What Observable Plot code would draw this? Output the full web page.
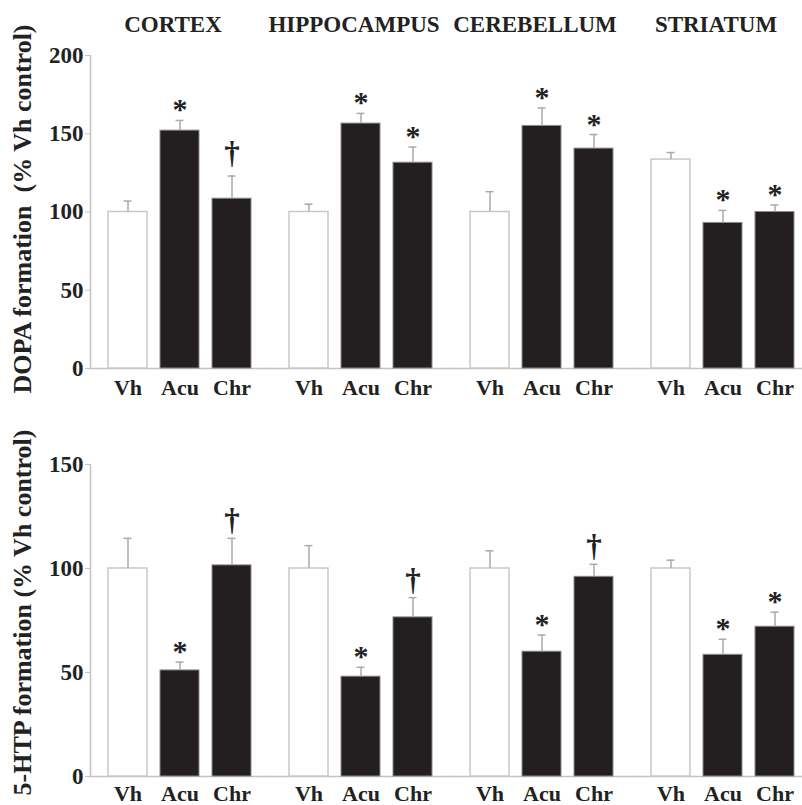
<!DOCTYPE html>
<html>
<head>
<meta charset="utf-8">
<script src="https://cdn.jsdelivr.net/npm/d3@7"></script>
<script src="https://cdn.jsdelivr.net/npm/@observablehq/plot@0.6"></script>
<style>
  html, body { margin: 0; padding: 0; background: #fff; }
  #chart svg { display: block; }
</style>
</head>
<body>
<div id="chart"></div>
<script>
const regions = ["CORTEX", "HIPPOCAMPUS", "CEREBELLUM", "STRIATUM"];
const treatments = ["Vh", "Acu", "Chr"];

// DOPA formation (% Vh control): mean and SEM per region x treatment
const dopaMean = [[100, 152, 108.5], [100, 156.5, 131.5], [100, 155, 140.5], [133.5, 93, 100]];
const dopaSem  = [[7, 6.5, 14.5], [5, 6.5, 10], [13, 11.5, 9], [4.5, 8, 4.5]];
const dopaSig  = [["", "*", "†"], ["", "*", "*"], ["", "*", "*"], ["", "*", "*"]];
const dopaTicks = [0, 50, 100, 150, 200];

// 5-HTP formation (% Vh control)
const htpMean = [[100, 51, 101.5], [100, 48, 76.5], [100, 60, 96], [100, 58.5, 72]];
const htpSem  = [[14.5, 4, 13], [11, 4.5, 9.5], [8.5, 8, 6], [4, 7.5, 7]];
const htpSig  = [["", "*", "†"], ["", "*", "†"], ["", "*", "†"], ["", "*", "*"]];
const htpTicks = [0, 50, 100, 150];

function rows(mean, sem, sig) {
  return regions.flatMap((r, i) => treatments.map((t, j) => ({
    region: r, treatment: t, mean: mean[i][j], sem: sem[i][j], top: mean[i][j] + sem[i][j], sig: sig[i][j]
  })));
}

const FONT = "'Liberation Serif', 'Times New Roman', serif";
const AXIS = "#c4c4c4";

function panel({data, ticks, label, labelDy, height, marginTop, marginBottom, titles, daggerDy, xPad}) {
  const marks = [
    Plot.ruleY([0], {stroke: AXIS, strokeWidth: 1.5, insetRight: -17}),
    Plot.frame({anchor: "left", facetAnchor: "left", stroke: AXIS, strokeWidth: 1.5}),
    Plot.barY(data.filter(d => d.treatment === "Vh"), {fx: "region", x: "treatment", y: "mean", fill: "white", stroke: "#c8c8c8", strokeWidth: 1.5}),
    Plot.barY(data.filter(d => d.treatment !== "Vh"), {fx: "region", x: "treatment", y: "mean", fill: "#231f20", stroke: "#8a8a8a", strokeWidth: 1}),
    Plot.ruleX(data, {fx: "region", x: "treatment", y1: "mean", y2: "top", stroke: "#aaa", strokeWidth: 1.5}),
    Plot.tickY(data, {fx: "region", x: "treatment", y: "top", stroke: "#aaa", strokeWidth: 1.5, insetLeft: 15.5, insetRight: 15.5}),
    Plot.text(data.filter(d => d.sig === "*"), {fx: "region", x: "treatment", y: "top", text: "sig", lineAnchor: "bottom", dy: -1, fontSize: 30, fill: "#222"}),
    Plot.text(data.filter(d => d.sig === "†"), {fx: "region", x: "treatment", y: "top", text: "sig", lineAnchor: "bottom", dy: daggerDy, fontSize: 31, fill: "#222"}),
    Plot.axisY({ticks, tickSize: 5, tickPadding: 2, fontSize: 23, stroke: AXIS, fill: "#222", label: null}),
    Plot.text([label], {text: d => d, frameAnchor: "left", facetAnchor: "left", rotate: -90, textAnchor: "middle", lineAnchor: "middle", dx: -67.5, dy: labelDy, fontSize: 26, fill: "#222"}),
    Plot.axisX({tickSize: 0, tickPadding: xPad, fontSize: 22, fill: "#222", label: null})
  ];
  if (titles) marks.push(Plot.axisFx({anchor: "top", tickSize: 0, tickPadding: 24, fontSize: 23, fill: "#222", label: null}));
  return Plot.plot({
    width: 802, height, marginLeft: 89, marginRight: 2, marginTop, marginBottom,
    style: {fontFamily: FONT, fontWeight: "bold", background: "white", color: "#222"},
    fx: {domain: regions, paddingInner: 0.088, paddingOuter: 0, label: null, axis: titles ? undefined : null},
    x: {domain: treatments, paddingInner: 0.245, paddingOuter: 0.186, align: 0.85, label: null},
    y: {domain: [0, ticks[ticks.length - 1]], label: null, axis: null},
    marks
  });
}

const chart = document.getElementById("chart");
chart.append(panel({
  data: rows(dopaMean, dopaSem, dopaSig), ticks: dopaTicks,
  label: "DOPA formation  (% Vh control)", labelDy: -3, height: 400, marginTop: 55, marginBottom: 32,
  titles: true, daggerDy: -13, xPad: 11
}));
chart.append(panel({
  data: rows(htpMean, htpSem, htpSig), ticks: htpTicks,
  label: "5-HTP formation (% Vh control)", labelDy: -8, height: 405, marginTop: 64, marginBottom: 29,
  titles: false, daggerDy: -8, xPad: 9
}));
</script>
</body>
</html>
